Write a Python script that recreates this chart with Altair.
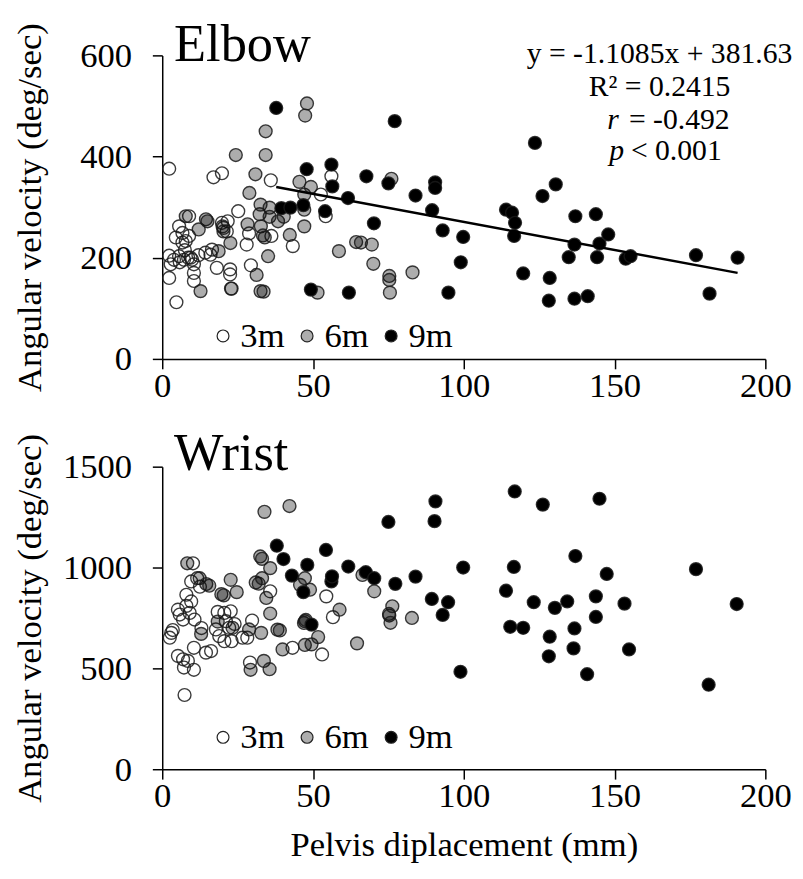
import altair as alt
import pandas as pd

FONT = "Liberation Serif"
SERIES = ["3m", "6m", "9m"]
SERIES_FILL = ["rgba(255,255,255,0)", "rgba(0,0,0,0.32)", "rgba(0,0,0,1)"]

# ---------------- Elbow (top panel) ----------------
elbow_3m_x = [2.3, 2.3, 2.3, 2.8, 4.5, 4.7, 5.6, 5.6, 5.8, 6.7, 6.7, 7.2, 7.5, 7.8, 8.6, 8.9, 8.9, 9.9,
              10.5, 10.5, 10.5, 12.0, 14.3, 16.0, 16.5, 17.0, 18.1, 19.8, 20.3, 21.4, 21.7, 22.5, 22.5,
              23.0, 25.2, 28.0, 28.8, 29.4, 36.0, 36.2, 43.3, 52.6, 54.2, 56.1, 3.9, 9.4, 19.8]
elbow_3m_y = [376, 204, 160, 187, 240, 112, 262, 203, 191, 249, 230, 196, 215, 233, 200, 282, 243, 196,
              187, 170, 154, 205, 210, 206, 216, 359, 180, 367, 259, 252, 272, 177, 167,
              139, 292, 226, 248, 185, 353, 243, 223, 325, 282, 361, 196, 200, 269]

elbow_6m_x = [7.8, 12.1, 12.7, 14.5, 15.0, 18.7, 20.0, 20.3, 22.6, 22.8, 24.4, 28.3, 28.9, 30.9, 31.3,
              32.3, 32.6, 32.7, 32.6, 33.6, 33.4, 34.0, 34.3, 34.3, 35.1, 35.6, 35.6, 38.4, 40.3, 42.3,
              45.5, 47.1, 47.1, 47.1, 47.4, 48.0, 49.3, 51.5, 58.6, 64.3, 65.9, 69.5, 70.0, 75.3, 75.3,
              75.5, 76.0, 83.0]
elbow_6m_y = [282, 256, 134, 276, 272, 213, 262, 252, 229, 139, 403, 266, 328, 365, 166,
              286, 305, 262, 134, 133, 244, 240, 450, 403, 203, 299, 281, 272, 281, 245,
              350, 325, 295, 262, 481, 505, 340, 131, 213, 231, 230, 226, 188, 164, 156,
              131, 356, 171]

elbow_9m_x = [37.8, 39.5, 42.5, 46.8, 47.9, 49.3, 54.0, 56.1, 56.4, 61.6, 61.9, 67.7, 70.2, 75.0, 77.1,
              84.0, 89.5, 90.5, 90.5, 93.0, 94.9, 99.0, 99.8, 114.0, 116.0, 117.0, 116.7, 119.7, 123.6,
              126.1, 128.5, 128.2, 130.5, 134.8, 136.7, 137.0, 136.7, 141.1, 143.8, 144.2, 145.0, 147.9,
              153.7, 155.3, 177.0, 181.5, 190.8]
elbow_9m_y = [496, 298, 299, 304, 375, 137, 292, 384, 341, 318, 131, 361, 268, 347, 470,
              323, 294, 349, 338, 254, 131, 191, 241, 295, 289, 269, 243, 169, 427,
              322, 160, 115, 345, 201, 226, 282, 119, 124, 286, 201, 228, 246,
              198, 203, 205, 129, 200]

# Trend line printed on the chart (9m)
fit_slope = -1.1085
fit_intercept = 381.63
fit_lines = ["y = -1.1085x + 381.63", "R² = 0.2415"]
fit_r = ["r", "= -0.492"]
fit_p = ["p", "< 0.001"]

# ---------------- Wrist (bottom panel) ----------------
wrist_3m_x = [2.5, 3.0, 5.2, 5.2, 5.8, 6.9, 6.9, 7.2, 7.4, 8.0, 8.5, 9.1, 9.6, 9.6, 10.2, 10.5, 10.5,
              10.7, 11.6, 12.5, 14.5, 16.2, 17.8, 18.4, 18.9, 20.6, 20.6, 21.1, 22.2, 22.7, 23.0, 24.0,
              26.6, 28.2, 29.1, 29.8, 35.8, 43.2, 53.0, 54.4, 56.6, 3.5, 8.0, 13.0]
wrist_3m_y = [652, 676, 791, 562, 767, 742, 545, 504, 368, 865, 537, 775, 931, 832, 1021, 602, 493,
              742, 947, 905, 578, 586, 693, 780, 660, 775, 635, 734, 701, 783, 635, 720,
              652, 652, 529, 737, 882, 602, 569, 857, 754, 690, 810, 700]

wrist_6m_x = [8.3, 12.4, 12.9, 14.6, 15.6, 18.4, 19.6, 20.4, 22.7, 23.3, 24.7, 28.8, 29.3, 32.5, 33.1,
              31.0, 32.0, 33.1, 32.8, 33.7, 33.9, 34.5, 35.6, 35.8, 35.8, 38.2, 39.0, 39.9, 42.2, 45.7,
              47.3, 47.3, 47.0, 47.6, 47.3, 49.0, 49.5, 51.7, 58.8, 64.6, 66.4, 70.3, 75.2, 75.3, 75.7,
              76.3, 82.8]
wrist_6m_y = [1021, 947, 671, 918, 910, 732, 868, 862, 939, 701, 878, 693, 493, 1055, 1043,
              926, 920, 947, 676, 537, 1276, 849, 496, 997, 772, 692, 688, 594, 1305, 914,
              947, 734, 725, 740, 616, 890, 619, 655, 791, 624, 963, 882, 770, 762, 726,
              808, 750]

wrist_9m_x = [38.0, 40.2, 43.0, 46.8, 48.1, 49.5, 54.3, 56.1, 56.3, 61.7, 67.5, 70.3, 75.0, 77.3, 84.0,
              89.4, 90.3, 90.6, 93.0, 94.8, 98.9, 99.8, 114.0, 115.4, 116.6, 116.9, 119.7, 123.2, 126.2,
              128.2, 128.5, 130.2, 134.3, 136.4, 136.7, 137.0, 140.9, 143.8, 143.8, 145.0, 147.4, 153.3,
              154.8, 177.0, 181.2, 190.5]
wrist_9m_y = [1108, 1042, 960, 878, 1013, 717, 1087, 931, 956, 1005, 977, 947, 1226, 919, 955,
              844, 1230, 1328, 765, 828, 483, 1000, 885, 706, 1003, 1377, 701, 828, 1312,
              560, 657, 800, 832, 599, 698, 1057, 471, 857, 755, 1341, 968, 821,
              594, 992, 419, 819]

x_ticks = [0, 50, 100, 150, 200]
elbow_ticks = [0, 200, 400, 600]
wrist_ticks = [0, 500, 1000, 1500]

X_TITLE = "Pelvis diplacement (mm)"
Y_TITLE = "Angular velocity (deg/sec)"


def frame(xs3, ys3, xs6, ys6, xs9, ys9):
    rows = []
    for s, xs, ys in ((SERIES[0], xs3, ys3), (SERIES[1], xs6, ys6), (SERIES[2], xs9, ys9)):
        for a, b in zip(xs, ys):
            rows.append({"series": s, "x": a, "y": b})
    return pd.DataFrame(rows)


elbow_df = frame(elbow_3m_x, elbow_3m_y, elbow_6m_x, elbow_6m_y, elbow_9m_x, elbow_9m_y)
wrist_df = frame(wrist_3m_x, wrist_3m_y, wrist_6m_x, wrist_6m_y, wrist_9m_x, wrist_9m_y)

x_min9, x_max9 = min(elbow_9m_x), max(elbow_9m_x)
fit_df = pd.DataFrame({"x": [x_min9, x_max9],
                       "y": [fit_slope * x_min9 + fit_intercept, fit_slope * x_max9 + fit_intercept]})

W = 610


def panel(df, y_max, y_ticks, name, name_y, legend_y, x_title):
    x_axis = alt.Axis(values=x_ticks, title=x_title, labelPadding=0, titlePadding=14, format="d")
    y_axis = alt.Axis(values=y_ticks, title=Y_TITLE, labelPadding=21, titleX=-134,
                      titleBaseline="middle", format="d")
    xs = alt.Scale(domain=[0, 200], nice=False, zero=False)
    ys = alt.Scale(domain=[0, y_max], nice=False)
    legend = alt.Legend(title=None, orient="none", legendX=44, legendY=legend_y, direction="horizontal",
                        labelFont=FONT, labelFontSize=35, labelColor="black", symbolType="circle",
                        symbolSize=144, symbolStrokeColor="#222222", symbolStrokeWidth=1.2,
                        labelOffset=0, columnPadding=5, padding=0, labelLimit=0)
    pts = alt.Chart(df).mark_circle(size=169, stroke="#1a1a1a", strokeWidth=1.4, strokeOpacity=0.85,
                                    opacity=1).encode(
        x=alt.X("x:Q", scale=xs, axis=x_axis),
        y=alt.Y("y:Q", scale=ys, axis=y_axis),
        fill=alt.Fill("series:N", scale=alt.Scale(domain=SERIES, range=SERIES_FILL), legend=legend),
    )
    label = alt.Chart(pd.DataFrame({"t": [name]})).mark_text(
        font=FONT, fontSize=53, align="left", baseline="alphabetic", color="black"
    ).encode(text="t:N", x=alt.value(12), y=alt.value(name_y))
    return pts, label


top_pts, top_label = panel(elbow_df, 600, elbow_ticks, "Elbow", 6, 266, None)
fit_line = alt.Chart(fit_df).mark_line(color="black", strokeWidth=2.5).encode(
    x=alt.X("x:Q", scale=alt.Scale(domain=[0, 200], nice=False)),
    y=alt.Y("y:Q", scale=alt.Scale(domain=[0, 600], nice=False)),
)

txt_kw = dict(font=FONT, fontSize=30, color="black", baseline="alphabetic")
ann1 = alt.Chart(pd.DataFrame({"t": fit_lines[:1]})).mark_text(align="center", **txt_kw).encode(
    text="t:N", x=alt.value(503), y=alt.value(8))
ann2 = alt.Chart(pd.DataFrame({"t": fit_lines[1:]})).mark_text(align="center", **txt_kw).encode(
    text="t:N", x=alt.value(503), y=alt.value(41))
ann3a = alt.Chart(pd.DataFrame({"t": fit_r[:1]})).mark_text(align="left", fontStyle="italic", **txt_kw).encode(
    text="t:N", x=alt.value(450), y=alt.value(74))
ann3b = alt.Chart(pd.DataFrame({"t": fit_r[1:]})).mark_text(align="left", **txt_kw).encode(
    text="t:N", x=alt.value(472), y=alt.value(74))
ann4a = alt.Chart(pd.DataFrame({"t": fit_p[:1]})).mark_text(align="left", fontStyle="italic", **txt_kw).encode(
    text="t:N", x=alt.value(452), y=alt.value(106))
ann4b = alt.Chart(pd.DataFrame({"t": fit_p[1:]})).mark_text(align="left", **txt_kw).encode(
    text="t:N", x=alt.value(474), y=alt.value(106))

top = alt.layer(top_pts, fit_line, top_label, ann1, ann2, ann3a, ann3b, ann4a, ann4b).properties(
    width=W, height=307)

bot_pts, bot_label = panel(wrist_df, 1500, wrist_ticks, "Wrist", 3, 256, X_TITLE)
bottom = alt.layer(bot_pts, bot_label).properties(width=W, height=306)

chart = alt.vconcat(top, bottom, spacing=109, bounds="flush").resolve_scale(
    fill="independent"
).resolve_legend(
    fill="independent"
).properties(
    padding={"left": 4, "top": 7, "right": 2, "bottom": 2}
).configure_view(stroke=None).configure_axis(
    labelFont=FONT, labelFontSize=35, labelColor="black",
    titleFont=FONT, titleFontSize=35, titleFontWeight="normal", titleColor="black",
    domainColor="black", domainWidth=1.5, tickColor="black", tickWidth=1.5, tickSize=10,
    grid=False, labelFlush=False, labelOverlap=False,
)

chart.save("out.html", embed_options={"renderer": "svg", "actions": False})
